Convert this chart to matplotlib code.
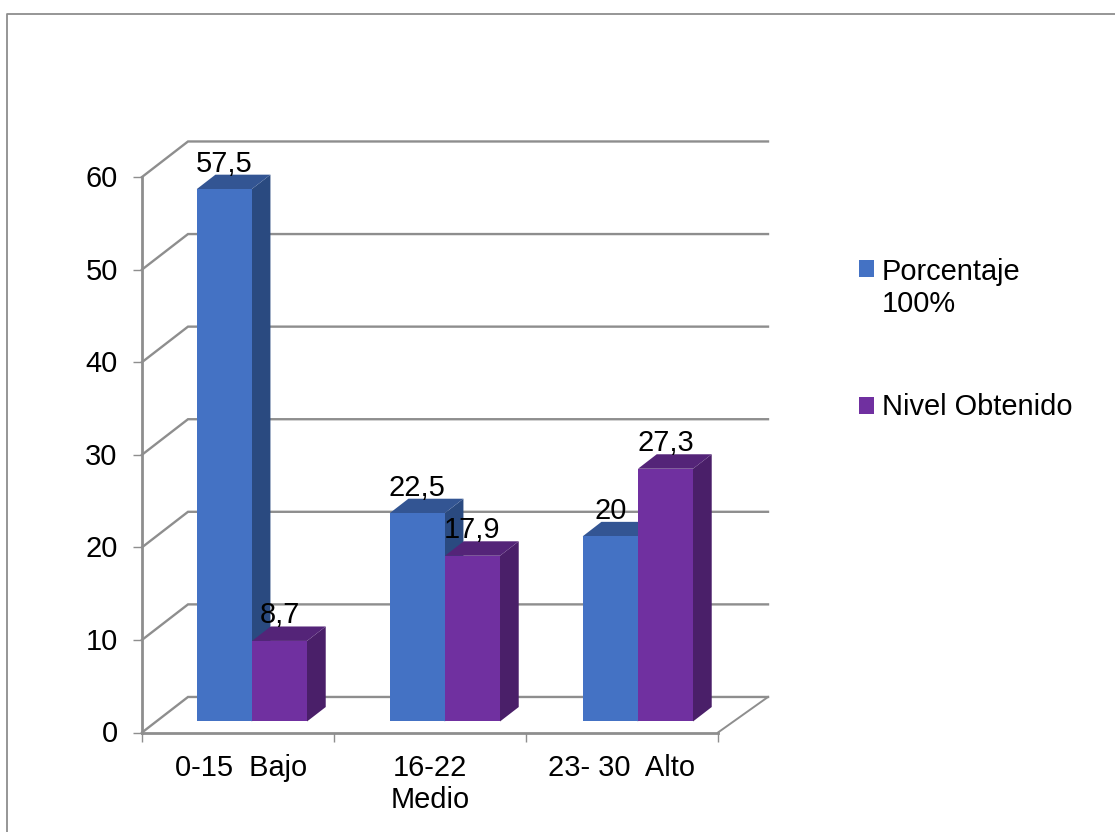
import matplotlib
matplotlib.use("Agg")
import matplotlib.pyplot as plt
from matplotlib.patches import Polygon, Rectangle
from matplotlib.lines import Line2D
from matplotlib.transforms import ScaledTranslation

plt.rcParams["font.family"] = ["Liberation Sans", "DejaVu Sans"]

categories = ["0-15  Bajo", "16-22\nMedio", "23- 30  Alto"]
porcentaje = [57.5, 22.5, 20]
nivel = [8.7, 17.9, 27.3]
value_ticks = [0, 10, 20, 30, 40, 50, 60]
value_labels = ["57,5", "22,5", "20"]
nivel_labels = ["8,7", "17,9", "27,3"]
series_names = ["Porcentaje\n100%", "Nivel Obtenido"]

W, H = 1115, 832
FS = 20.9
GRAY = "#8e8e8e"
BLUE = ("#4472c4", "#335593", "#2a4a80")
PURPLE = ("#7030a0", "#542478", "#4a1f69")

# Oblique projection: one unit of depth moves a point right and up the wall
PX_PER_CAT = 192.0
PX_PER_VAL = 9.25
DEPTH_X = 46 / PX_PER_CAT
DEPTH_Y = 35.5 / PX_PER_VAL
RIGHT_WALL_EXTRA = 4 / PX_PER_CAT
BAR_WIDTH = 55 / PX_PER_CAT
BAR_PLANE_SCALE = 193 / 192
BAR_PLANE_SHIFT = 13.5 / PX_PER_CAT
FRONT = 0.31
BACK = 0.717

fig = plt.figure(figsize=(W / 100, H / 100), dpi=100, facecolor="white")
ax = fig.add_axes([142 / W, (H - 732.5) / H, 576 / W, 555.5 / H])
ax.set_xlim(0, 3)
ax.set_ylim(0, 60)
ax.patch.set_visible(False)

# Gridlines on the back wall and side wall
n_cat = len(categories)
for v in value_ticks:
    by = v + DEPTH_Y
    ax.add_line(Line2D([0, DEPTH_X, n_cat + DEPTH_X + RIGHT_WALL_EXTRA], [v, by, by],
                       color=GRAY, lw=1.7, clip_on=False, zorder=1,
                       solid_joinstyle="miter"))
# Right edge of the floor
ax.add_line(Line2D([n_cat, n_cat + DEPTH_X + RIGHT_WALL_EXTRA], [0, DEPTH_Y], color=GRAY,
                   lw=1.4, clip_on=False, zorder=1))


def draw_bar(x_left, value, colors, z):
    """Draw one 3-D bar (front, top and side faces) and return its top-centre."""
    x0 = x_left * BAR_PLANE_SCALE + BAR_PLANE_SHIFT
    y0 = FRONT * DEPTH_Y
    ax.bar(x0, value, BAR_WIDTH, bottom=y0, align="edge", color=colors[0],
           linewidth=0, zorder=z + 0.2, clip_on=False)
    x1 = x0 + BAR_WIDTH
    top = y0 + value
    dx = (BACK - FRONT) * DEPTH_X
    dy = (BACK - FRONT) * DEPTH_Y
    ax.add_patch(Polygon([(x0, top), (x1, top), (x1 + dx, top + dy), (x0 + dx, top + dy)],
                         closed=True, fc=colors[1], lw=0, zorder=z + 0.1, clip_on=False))
    ax.add_patch(Polygon([(x1, y0), (x1 + dx, y0 + dy), (x1 + dx, top + dy), (x1, top)],
                         closed=True, fc=colors[2], lw=0, zorder=z, clip_on=False))
    return x0 + BAR_WIDTH / 2, top


tops = []
for i in range(n_cat):
    z = 2 + i
    c = i + 0.5
    tops.append((draw_bar(c - BAR_WIDTH, porcentaje[i], BLUE, z), value_labels[i]))
    tops.append((draw_bar(c, nivel[i], PURPLE, z + 0.5), nivel_labels[i]))

# Value labels sit a fixed distance above each front top edge
LABEL_GAP = 17.5 * 0.72
for (cx, ty), s in tops:
    ax.annotate(s, (cx, ty), xytext=(0, LABEL_GAP), textcoords="offset points",
                ha="center", va="baseline", fontsize=FS, color="black",
                zorder=20, annotation_clip=False)

# Axes
for side in ("top", "right"):
    ax.spines[side].set_visible(False)
for side in ("left", "bottom"):
    ax.spines[side].set_color(GRAY)
    ax.spines[side].set_linewidth(2.0)
    ax.spines[side].set_zorder(1.5)

ax.set_yticks(value_ticks)
ax.tick_params(axis="y", length=6.5, width=1.0, color=GRAY, labelsize=FS, pad=11)
ax.set_xticks(range(n_cat + 1))
ax.set_xticklabels([])
ax.set_xticks([i + 0.5 for i in range(n_cat)], minor=True)
ax.set_xticklabels(categories, minor=True, fontsize=FS, linespacing=1.2)
ax.tick_params(axis="x", which="major", length=6.5, width=1.0, color=GRAY)
ax.tick_params(axis="x", which="minor", length=0, pad=15.5)

# Small nudges for tick label placement
for lab in ax.get_yticklabels():
    lab.set_transform(lab.get_transform() + ScaledTranslation(0, 0.01, fig.dpi_scale_trans))
first = ax.get_xticklabels(minor=True)[0]
first.set_transform(first.get_transform() + ScaledTranslation(0.03, 0, fig.dpi_scale_trans))

# Legend
handles = [Rectangle((0, 0), 1, 1, fc=BLUE[0], lw=0), Rectangle((0, 0), 1, 1, fc=PURPLE[0], lw=0)]
leg = fig.legend(handles, series_names, loc="upper left",
                 bbox_to_anchor=(859 / W, 1 - 257.5 / H), bbox_transform=fig.transFigure,
                 frameon=False, fontsize=FS, borderpad=0, borderaxespad=0,
                 handlelength=0.517, handleheight=0.517, handletextpad=0.276,
                 labelspacing=2.57)
for t in leg.get_texts():
    t.set_linespacing(1.2)
# The swatch of the two-line entry lines up with its first line
leg.legend_handles[0].set_y(leg.legend_handles[0].get_y() + 20 * 0.72)
leg.legend_handles[1].set_y(leg.legend_handles[1].get_y() - 1 * 0.72)

# Outer frame, open towards the right and bottom image edges
fig.add_artist(Line2D([7 / W, 7 / W, 1], [0, 1 - 13.5 / H, 1 - 13.5 / H], color=GRAY, lw=1.3,
                      transform=fig.transFigure))

fig.savefig("out.png", dpi=100)
